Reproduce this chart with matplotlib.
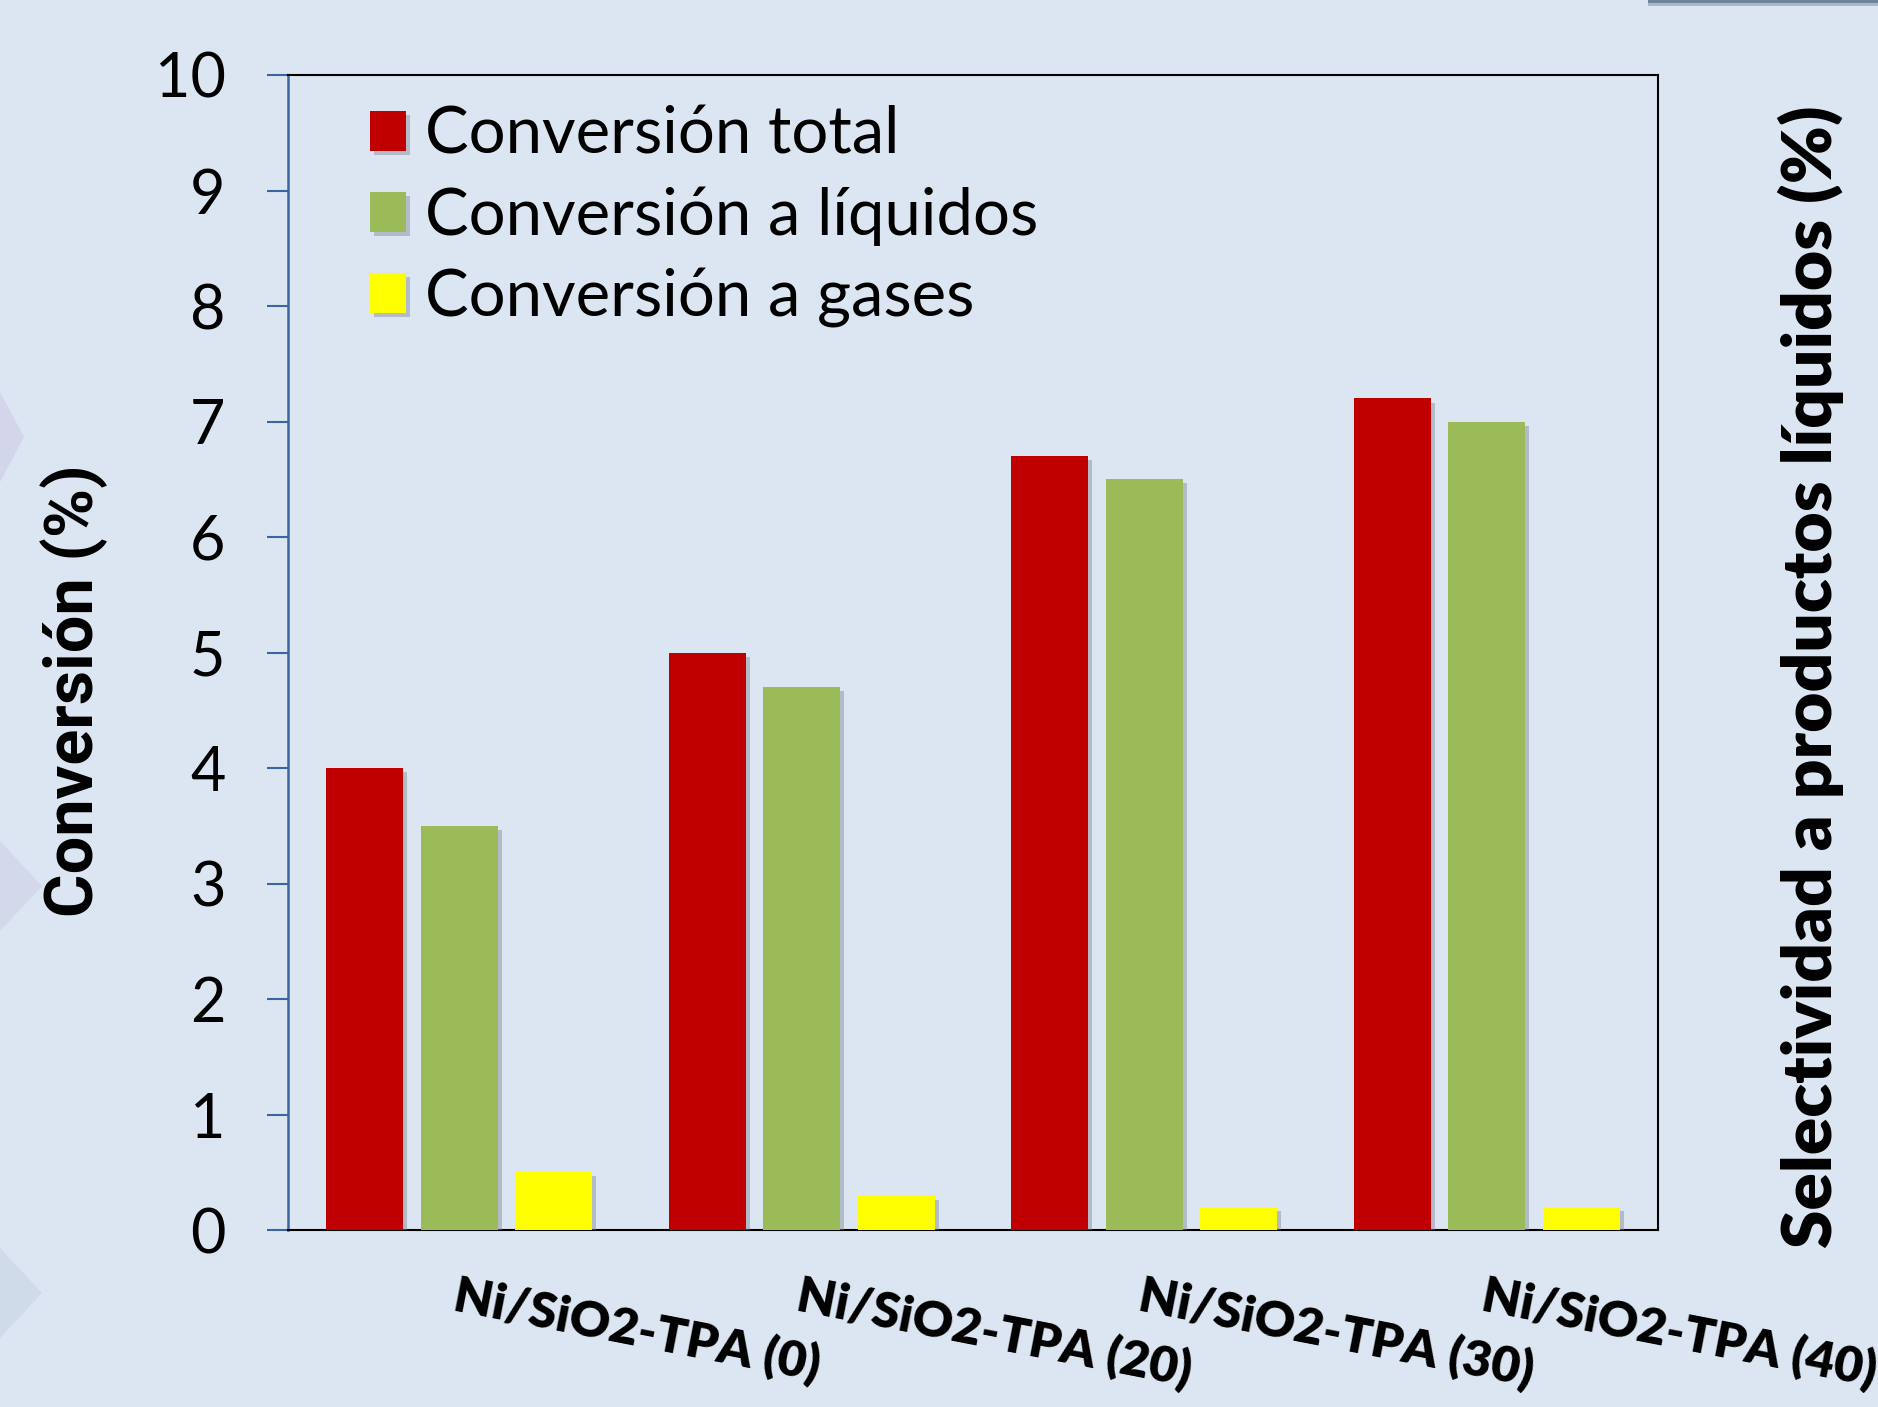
import matplotlib
matplotlib.use("Agg")
import matplotlib.pyplot as plt
import matplotlib.patheffects as pe
from matplotlib import font_manager
from matplotlib.patches import Polygon, Rectangle
import numpy as np

# catalysts and conversions (%)
catalysts = ["Ni/SiO2-TPA (0)", "Ni/SiO2-TPA (20)", "Ni/SiO2-TPA (30)", "Ni/SiO2-TPA (40)"]
conv_total = [4.0, 5.0, 6.7, 7.2]
conv_liquidos = [3.5, 4.7, 6.5, 7.0]
conv_gases = [0.5, 0.3, 0.2, 0.2]
series_labels = ["Conversión total", "Conversión a líquidos", "Conversión a gases"]
yticks = list(range(0, 11))

BG = "#dce6f2"
COLORS = ["#c00000", "#9bbb59", "#ffff00"]
AXIS_BLUE = "#3b64a0"

available = {f.name for f in font_manager.fontManager.ttflist}
def pick(*names):
    for n in names:
        if n in available:
            return n
    return "DejaVu Sans"

body_font = pick("Lato", "Open Sans", "Noto Sans")
narrow_font = pick("Liberation Sans Narrow", "DejaVu Sans Condensed", "Roboto", "Liberation Sans")
plt.rcParams["font.family"] = [body_font, "DejaVu Sans"]

W, H = 1878, 1407
fig = plt.figure(figsize=(W / 100, H / 100), dpi=100, facecolor=BG)

# slide background decorations
for tip_x, cy, col in [(24, 437, "#d3d5ea"), (42, 886, "#d3d8ea"), (42, 1293, "#d0dbe9")]:
    tri = Polygon([(0, H - cy - 45), (tip_x, H - cy), (0, H - cy + 45)],
                  closed=True, transform=None, facecolor=col, edgecolor="none")
    fig.patches.append(tri)
fig.patches.append(Rectangle((1648, H - 6), 240, 8, transform=None,
                             facecolor="#a9b8c8", edgecolor="none"))
fig.patches.append(Rectangle((1648, H - 3), 240, 5, transform=None,
                             facecolor="#6f8398", edgecolor="none"))

ax = fig.add_axes([288 / W, 1 - 1230 / H, (1658 - 288) / W, (1230 - 75) / H])
ax.set_facecolor(BG)

x = np.arange(len(catalysts))
w = 0.224
step = 0.276
shadow = [pe.SimplePatchShadow(offset=(3, -3), shadow_rgbFace="#7f8a99", alpha=0.45), pe.Normal()]
for i, (vals, col, lab) in enumerate(zip([conv_total, conv_liquidos, conv_gases], COLORS, series_labels)):
    bars = ax.bar(x + (i - 1) * step, vals, width=w, color=col, label=lab, zorder=3)
    for b in bars:
        b.set_path_effects(shadow)

ax.set_xlim(-0.5, len(catalysts) - 0.5)
ax.set_ylim(0, 10)
ax.set_yticks(yticks)
ax.tick_params(axis="y", direction="out", length=15, width=1.5, color=AXIS_BLUE,
               pad=30, labelsize=44, labelcolor="black")
ax.set_xticks(x)
ax.set_xticklabels(catalysts, rotation=-11, ha="left", va="top", rotation_mode="anchor",
                   fontsize=36, fontweight="heavy")
ax.tick_params(axis="x", length=0, pad=30)

for side in ["top", "right", "bottom"]:
    ax.spines[side].set_color("black")
    ax.spines[side].set_linewidth(1.5)
ax.spines["left"].set_color(AXIS_BLUE)
ax.spines["left"].set_linewidth(1.8)

leg = ax.legend(loc="upper left", bbox_to_anchor=(370 / W, 1 - 106 / H),
                bbox_transform=fig.transFigure, frameon=False, fontsize=47,
                handlelength=0.55, handleheight=0.55, handletextpad=0.3,
                labelspacing=0.33, borderpad=0, borderaxespad=0)

fig.text(74 / W, 1 - 691 / H, "Conversión (%)", rotation=90, ha="center", va="center",
         fontsize=48, fontweight="bold", family=[narrow_font, "DejaVu Sans"])
fig.text(1811 / W, 1 - 677 / H, "Selectividad a productos líquidos (%)", rotation=90,
         ha="center", va="center", fontsize=50, fontweight="heavy")

fig.savefig("out.png", dpi=100, facecolor=BG)
